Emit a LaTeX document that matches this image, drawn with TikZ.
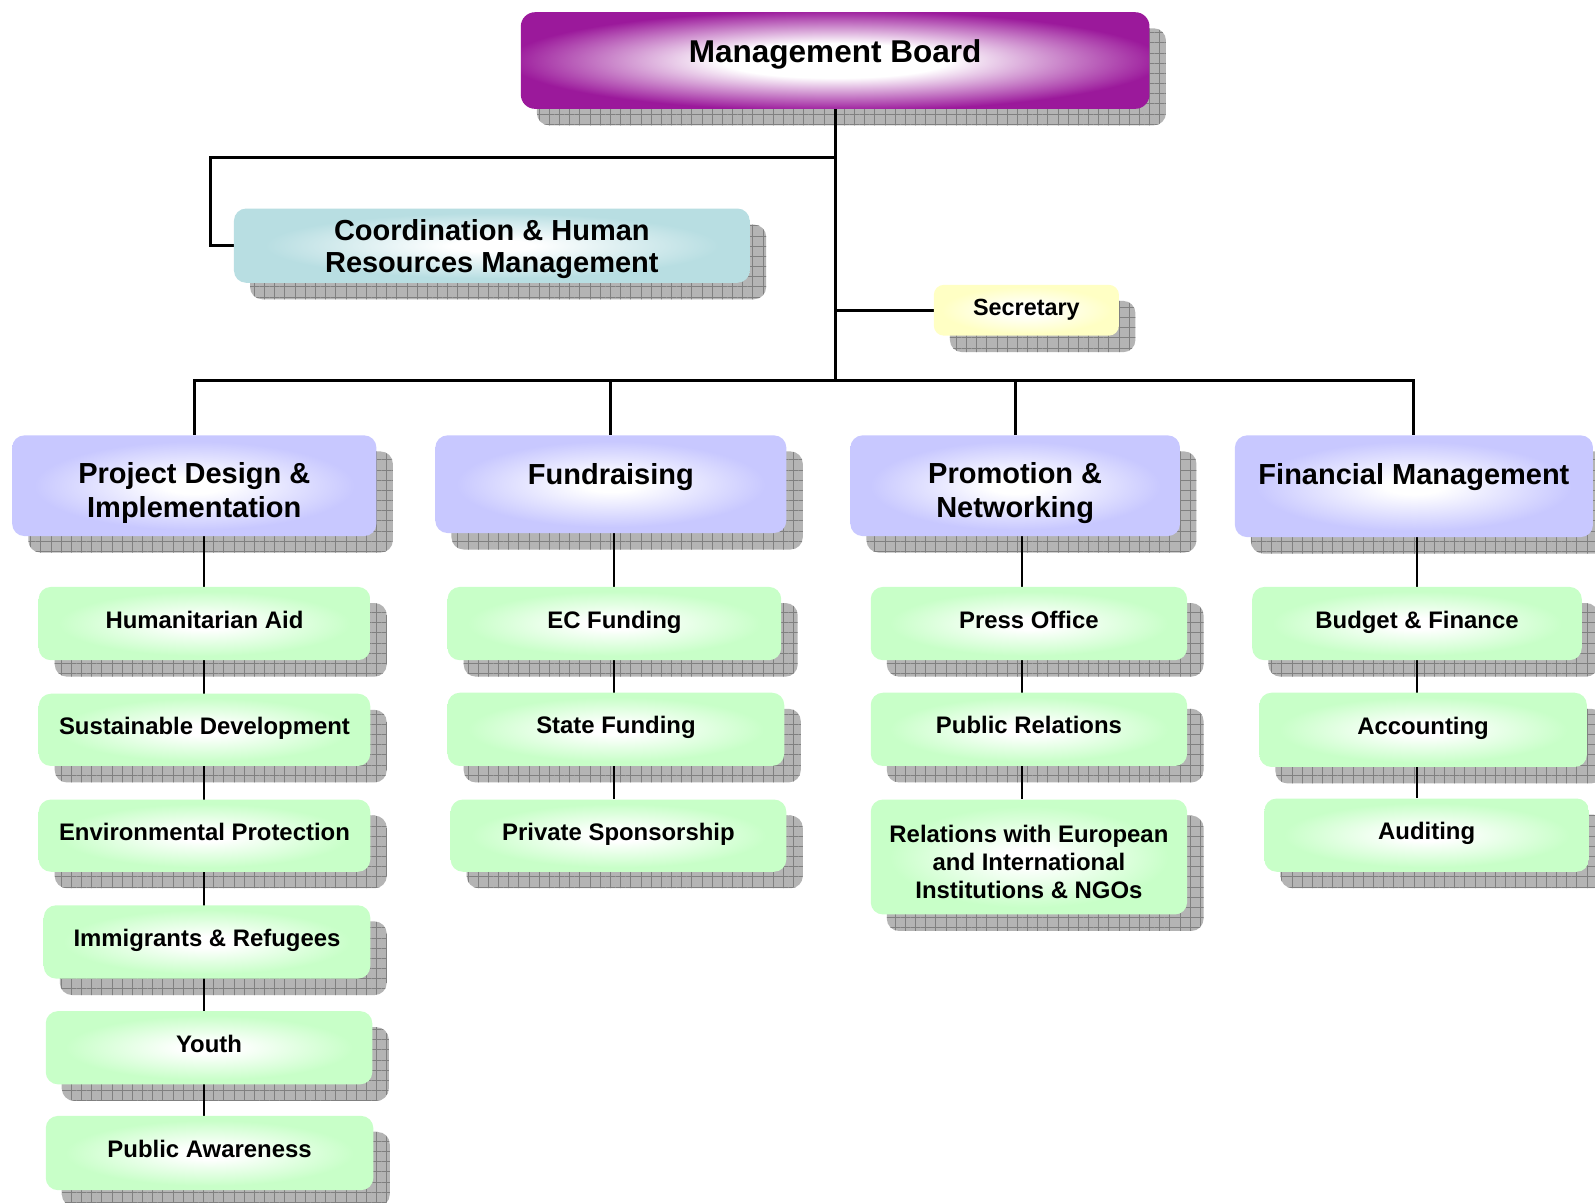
\documentclass[tikz,border=0pt]{standalone}
\usepackage{fontspec}
\setmainfont{Liberation Sans}
\usetikzlibrary{patterns.meta}
\definecolor{mbpurple}{RGB}{155,25,155}
\definecolor{coordcyan}{RGB}{184,222,226}
\definecolor{secyellow}{RGB}{255,255,196}
\definecolor{deptblue}{RGB}{200,200,255}
\definecolor{unitgreen}{RGB}{200,255,200}
\definecolor{shadowgray}{RGB}{180,180,180}
\definecolor{gridgray}{RGB}{128,128,128}
\pgfdeclareradialshading{glowpurple}{\pgfpoint{0bp}{0bp}}{color(0bp)=(white); color(9bp)=(white); color(26bp)=(mbpurple); color(50bp)=(mbpurple)}
\pgfdeclareradialshading{glowcyan}{\pgfpoint{0bp}{0bp}}{color(0bp)=(white); color(4bp)=(white); color(22bp)=(coordcyan); color(50bp)=(coordcyan)}
\pgfdeclareradialshading{glowyellow}{\pgfpoint{0bp}{0bp}}{color(0bp)=(white); color(4bp)=(white); color(23bp)=(secyellow); color(50bp)=(secyellow)}
\pgfdeclareradialshading{glowblue}{\pgfpoint{0bp}{0bp}}{color(0bp)=(white); color(4bp)=(white); color(22bp)=(deptblue); color(50bp)=(deptblue)}
\pgfdeclareradialshading{glowgreen}{\pgfpoint{0bp}{0bp}}{color(0bp)=(white); color(4bp)=(white); color(22bp)=(unitgreen); color(50bp)=(unitgreen)}
\pgfdeclarelayer{bglayer}
\pgfdeclarelayer{shadowlayer}
\pgfdeclarelayer{linelayer}
\pgfsetlayers{bglayer,shadowlayer,linelayer,main}
\tikzset{
  orgnode/.style={rectangle, rounded corners=12pt, shade, align=center, inner sep=0pt, text=black},
  mbst/.style={orgnode, rounded corners=14pt, shading=glowpurple, font=\fontsize{31}{34}\selectfont\bfseries,
    text height=22.5pt, text depth=18.5pt},
  chrst/.style={orgnode, shading=glowcyan, font=\fontsize{28.5}{32}\selectfont\bfseries},
  secst/.style={orgnode, rounded corners=10pt, shading=glowyellow, font=\fontsize{23}{27}\selectfont\bfseries},
  deptst/.style={orgnode, shading=glowblue, font=\fontsize{28.5}{33}\selectfont\bfseries},
  unitst/.style={orgnode, shading=glowgreen, font=\fontsize{23.5}{27.5}\selectfont\bfseries},
  unitone/.style={unitst, text height=17pt, text depth=8pt},
  shadowbox/.style={rounded corners=12pt, preaction={fill=shadowgray},
    pattern={Hatch[distance=10pt, angle=0, line width=0.7pt]}, pattern color=gridgray},
  mainline/.style={draw=black, line width=3pt},
  subline/.style={draw=black, line width=2pt}
}
\newcommand\orgbox[7]{%
  \node[#1, minimum width={#5-#3}, minimum height={#6-#4}] (#2) at ({(#3+#5)/2},{(#4+#6)/2}) {#7};
  \begin{pgfonlayer}{shadowlayer}
    \path[shadowbox] ([shift={(16,16)}]#2.north west) rectangle ([shift={(16,16)}]#2.south east);
  \end{pgfonlayer}}
\newcommand\toplift[1]{\rule{0pt}{#1pt}}
\begin{document}
\begin{tikzpicture}[x=1pt,y=-1pt]
\begin{pgfonlayer}{bglayer}
  \fill[white] (0,0) rectangle (1568,1182);
\end{pgfonlayer}
\useasboundingbox (0,0) rectangle (1568,1182);

\orgbox{mbst}{mb}{512}{12}{1130}{107}{Management Board}
\orgbox{chrst}{chr}{230}{205}{737}{278}{\toplift{27}Coordination \& Human\\Resources Management}
\orgbox{secst}{sec}{918}{280}{1100}{330}{Secretary}

\orgbox{deptst}{pd}{12}{428}{370}{527}{\toplift{35}Project Design \&\\Implementation}
\orgbox{deptst}{fr}{428}{428}{773}{524}{\toplift{33}Fundraising\\\mbox{}}
\orgbox{deptst}{pn}{836}{428}{1160}{527}{\toplift{35}Promotion \&\\Networking}
\orgbox{deptst}{fm}{1214}{428}{1566}{528}{\toplift{29}Financial Management\\\mbox{}}

\orgbox{unitone}{ha}{38}{577}{364}{649}{Humanitarian Aid}
\orgbox{unitone}{sd}{38}{682}{364}{753}{Sustainable Development}
\orgbox{unitone}{ep}{38}{786}{364}{857}{Environmental Protection}
\orgbox{unitone}{ir}{43}{890}{364}{962}{Immigrants \& Refugees}
\orgbox{unitone}{yo}{45}{994}{366}{1066}{Youth}
\orgbox{unitone}{pa}{45}{1097}{367}{1170}{Public Awareness}

\orgbox{unitone}{ec}{440}{577}{768}{649}{EC Funding}
\orgbox{unitone}{sf}{440}{681}{771}{753}{State Funding}
\orgbox{unitone}{ps}{443}{786}{773}{857}{Private Sponsorship}

\orgbox{unitone}{po}{856}{577}{1167}{649}{Press Office}
\orgbox{unitone}{pr}{856}{681}{1167}{753}{Public Relations}
\orgbox{unitst}{rel}{856}{786}{1167}{899}{\toplift{27}Relations with European\\and International\\Institutions \& NGOs}

\orgbox{unitone}{bf}{1231}{577}{1555}{649}{Budget \& Finance}
\orgbox{unitone}{acc}{1238}{681}{1560}{754}{Accounting}
\orgbox{unitone}{aud}{1243}{785}{1562}{857}{Auditing}

\coordinate (bus) at (821,374);
\coordinate (chrturn) at (207,155);
\coordinate (col3) at (1005,540);

\begin{pgfonlayer}{linelayer}
  \draw[mainline] (mb.south) -- (mb.south |- bus);
  \draw[mainline] (mb.south |- chrturn) -- (chrturn) |- (chr.west);
  \draw[mainline] (mb.south |- sec.west) -- (sec.west);
  \draw[mainline] (pd.north) -- (pd.north |- bus) -- (fm.north |- bus) -- (fm.north);
  \draw[mainline] (fr.north) -- (fr.north |- bus);
  \draw[mainline] (pn.north) -- (pn.north |- bus);
  \draw[subline] (ha.north |- pd.south) -- (ha.south |- pa.north);
  \draw[subline] (ec.north |- fr.south) -- (ec.south |- ps.north);
  \draw[subline] (col3 |- pn.south) -- (col3 |- rel.north);
  \draw[subline] (bf.north |- fm.south) -- (bf.south |- aud.north);
\end{pgfonlayer}
\end{tikzpicture}
\end{document}
